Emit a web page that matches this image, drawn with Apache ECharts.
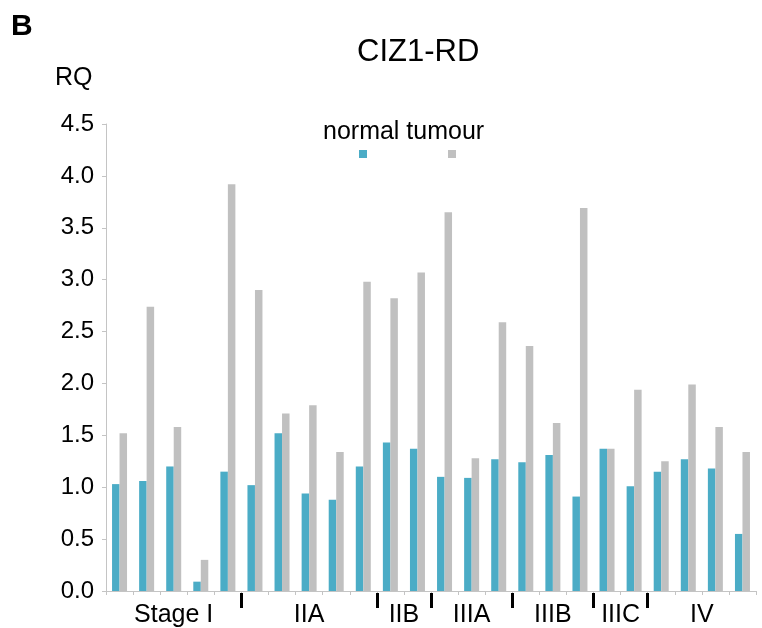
<!DOCTYPE html>
<html>
<head>
<meta charset="utf-8">
<script src="https://cdn.jsdelivr.net/npm/echarts@6/dist/echarts.min.js"></script>
<style>
  html, body { margin: 0; padding: 0; background: #fff; }
  #chart { width: 762px; height: 628px; }
</style>
</head>
<body>
<div id="chart"></div>
<script>
// RQ values per sample
const samples = ['1', '2', '3', '4', '5', '6', '7', '8', '9', '10', '11', '12',
  '13', '14', '15', '16', '17', '18', '19', '20', '21', '22', '23', '24']
const normal = [1.03, 1.06, 1.20, 0.09, 1.15, 1.02, 1.52, 0.94, 0.88, 1.20, 1.43, 1.37,
  1.10, 1.09, 1.27, 1.24, 1.31, 0.91, 1.37, 1.01, 1.15, 1.27, 1.18, 0.55]
const tumour = [1.52, 2.74, 1.58, 0.30, 3.92, 2.90, 1.71, 1.79, 1.34, 2.98, 2.82, 3.07,
  3.65, 1.28, 2.59, 2.36, 1.62, 3.69, 1.37, 1.94, 1.25, 1.99, 1.58, 1.34]
// stage groups along the x axis
const stageNames = ['Stage I', 'IIA', 'IIB', 'IIIA', 'IIIB', 'IIIC', 'IV']
const stageSizes = [5, 5, 2, 3, 3, 2, 4]

const FONT = 'Liberation Sans, Arial, Helvetica, sans-serif'

// half-category slots: label at group centre, separator at group boundary
const slotLabels = new Array(samples.length * 2 + 1).fill('')
const sepSlots = new Set()
let start = 0
stageNames.forEach((name, i) => {
  slotLabels[start * 2 + stageSizes[i]] = name
  start += stageSizes[i]
  if (i < stageNames.length - 1) sepSlots.add(start * 2)
})

const chart = echarts.init(document.getElementById('chart'))
chart.setOption({
  backgroundColor: '#fff',
  textStyle: { fontFamily: FONT },
  title: [
    { text: 'B', left: 11, top: 12, padding: 0,
      textStyle: { fontSize: 30, fontWeight: 'bold', color: '#000', fontFamily: FONT } },
    { text: 'CIZ1-RD', left: 357, top: 37, padding: 0,
      textStyle: { fontSize: 31, fontWeight: 'normal', color: '#000', fontFamily: FONT } },
    { text: 'RQ', left: 55, top: 66, padding: 0,
      textStyle: { fontSize: 25, fontWeight: 'normal', color: '#000', fontFamily: FONT } },
    { text: 'normal tumour', left: 323, top: 120, padding: 0,
      textStyle: { fontSize: 25, fontWeight: 'normal', color: '#000', fontFamily: FONT } }
  ],
  legend: [
    { data: ['normal'], left: 359, top: 150, padding: 0, icon: 'rect',
      itemWidth: 8, itemHeight: 8, formatter: () => '', selectedMode: false },
    { data: ['tumour'], left: 448, top: 150, padding: 0, icon: 'rect',
      itemWidth: 8, itemHeight: 8, formatter: () => '', selectedMode: false }
  ],
  grid: { left: 106, right: 6, top: 124, bottom: 37 },
  xAxis: [
    {
      type: 'category',
      data: samples,
      axisLine: { lineStyle: { color: '#c4c4c4', width: 1 } },
      axisTick: { show: true, length: 4, lineStyle: { color: '#c4c4c4' } },
      axisLabel: { show: false }
    },
    {
      type: 'category',
      position: 'bottom',
      data: slotLabels,
      boundaryGap: false,
      offset: 2,
      axisLine: { show: false },
      axisTick: {
        show: true,
        length: 15,
        interval: (idx) => sepSlots.has(idx),
        lineStyle: { color: '#000', width: 3 }
      },
      axisLabel: {
        interval: 0,
        margin: 10,
        fontSize: 25,
        color: '#000',
        fontFamily: FONT
      }
    }
  ],
  yAxis: {
    type: 'value',
    min: 0,
    max: 4.5,
    interval: 0.5,
    axisLine: { show: true, lineStyle: { color: '#c4c4c4' } },
    axisTick: { show: true, length: 4, lineStyle: { color: '#c4c4c4' } },
    splitLine: { show: false },
    axisLabel: {
      margin: 12,
      fontSize: 24,
      color: '#000',
      fontFamily: FONT,
      formatter: v => v.toFixed(1)
    }
  },
  series: [
    {
      name: 'normal',
      type: 'bar',
      data: normal,
      barWidth: 7.5,
      barGap: '0%',
      itemStyle: { color: '#4bacc6' }
    },
    {
      name: 'tumour',
      type: 'bar',
      data: tumour,
      barWidth: 7.5,
      barGap: '0%',
      itemStyle: { color: '#c0c0c0' }
    }
  ]
})
</script>
</body>
</html>
